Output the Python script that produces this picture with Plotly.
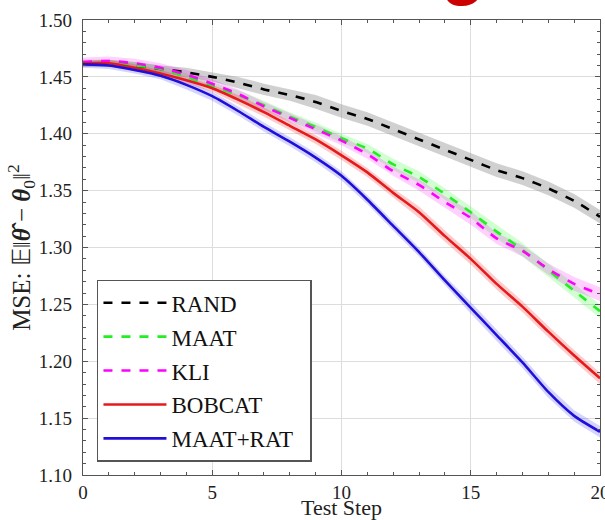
import plotly.graph_objects as go

steps = list(range(21))

rand = [1.462, 1.462, 1.460, 1.457, 1.454, 1.450, 1.445, 1.439, 1.434, 1.428, 1.420,
        1.413, 1.404, 1.395, 1.386, 1.377, 1.368, 1.361, 1.352, 1.341, 1.327]
maat = [1.462, 1.462, 1.460, 1.457, 1.450, 1.442, 1.434, 1.425, 1.415, 1.406, 1.396,
        1.387, 1.373, 1.362, 1.347, 1.331, 1.314, 1.298, 1.280, 1.262, 1.244]
kli = [1.463, 1.464, 1.462, 1.458, 1.452, 1.444, 1.435, 1.424, 1.414, 1.404, 1.394,
       1.382, 1.367, 1.355, 1.340, 1.326, 1.308, 1.297, 1.281, 1.268, 1.259]
bobcat = [1.462, 1.462, 1.458, 1.453, 1.447, 1.440, 1.430, 1.419, 1.407, 1.395, 1.381,
          1.366, 1.348, 1.331, 1.310, 1.290, 1.268, 1.248, 1.226, 1.205, 1.185]
maat_rat = [1.461, 1.460, 1.456, 1.451, 1.443, 1.433, 1.420, 1.406, 1.393, 1.379, 1.363,
            1.342, 1.319, 1.296, 1.271, 1.247, 1.223, 1.199, 1.173, 1.152, 1.138]

rand_err = [0.002, 0.003, 0.003, 0.003, 0.004, 0.004, 0.005, 0.005, 0.005, 0.006, 0.006,
            0.006, 0.006, 0.006, 0.006, 0.006, 0.006, 0.006, 0.006, 0.006, 0.006]
maat_err = [0.003, 0.003, 0.003, 0.003, 0.003, 0.003, 0.004, 0.004, 0.004, 0.004, 0.004,
            0.004, 0.005, 0.005, 0.005, 0.005, 0.006, 0.006, 0.006, 0.006, 0.006]
kli_err = [0.004, 0.004, 0.004, 0.004, 0.004, 0.004, 0.004, 0.004, 0.004, 0.004, 0.004,
           0.004, 0.004, 0.005, 0.005, 0.006, 0.005, 0.005, 0.005, 0.006, 0.006]
bobcat_err = [0.003, 0.003, 0.003, 0.003, 0.003, 0.003, 0.004, 0.004, 0.004, 0.004, 0.004,
              0.004, 0.004, 0.005, 0.005, 0.005, 0.005, 0.005, 0.005, 0.005, 0.005]
maat_rat_err = [0.003, 0.003, 0.003, 0.003, 0.004, 0.004, 0.004, 0.004, 0.004, 0.004, 0.004,
                0.004, 0.004, 0.004, 0.004, 0.005, 0.005, 0.005, 0.005, 0.005, 0.005]

series = [
    ("RAND", rand, rand_err, "black", "rgba(150,150,150,0.45)", "dash"),
    ("MAAT", maat, maat_err, "#22ee22", "rgba(0,255,0,0.18)", "dash"),
    ("KLI", kli, kli_err, "#ff00ff", "rgba(255,0,255,0.18)", "dash"),
    ("BOBCAT", bobcat, bobcat_err, "#e41a1c", "rgba(255,0,0,0.2)", "solid"),
    ("MAAT+RAT\u00a0\u00a0", maat_rat, maat_rat_err, "#1f0fd8", "rgba(60,60,255,0.22)", "solid"),
]

serif = "Liberation Serif"
fig = go.Figure()

for name, ys, err, lc, fc, dash in series:
    upper = [y + e for y, e in zip(ys, err)]
    lower = [y - e for y, e in zip(ys, err)]
    fig.add_trace(go.Scatter(
        x=steps + steps[::-1], y=upper + lower[::-1],
        fill="toself", fillcolor=fc, line=dict(width=0),
        mode="lines", showlegend=False, hoverinfo="skip",
    ))

for name, ys, err, lc, fc, dash in series:
    fig.add_trace(go.Scatter(
        x=steps, y=ys, mode="lines", name=name, legendgroup=name,
        line=dict(color=lc, width=2.6, dash=dash, shape="spline", smoothing=0.6),
    ))

axis_common = dict(
    showline=True, linecolor="#555", linewidth=1.2, mirror="allticks",
    ticks="inside", ticklen=5, tickcolor="#555",
    showgrid=True, gridcolor="#dddddd", gridwidth=1,
    zeroline=False, automargin=False, ticklabeloverflow="allow",
    tickfont=dict(family=serif, size=19, color="#222"),
)

fig.update_xaxes(
    range=[0, 20], tickvals=[0, 5, 10, 15, 20],
    minor=dict(dtick=1, ticks="inside", ticklen=3, tickcolor="#555", showgrid=False),
    title=dict(text="Test Step", font=dict(family=serif, size=22, color="#222"), standoff=0),
    **axis_common,
)
fig.update_yaxes(
    range=[1.10, 1.50], dtick=0.05, tickformat=".2f", ticklabelstandoff=6,
    minor=dict(dtick=0.01, ticks="inside", ticklen=3, tickcolor="#555", showgrid=False),
    title=dict(text="MSE: 𝔼‖<b><i>θ̂</i></b> − <b><i>θ</i></b><sub>0</sub>‖<sup>2</sup>",
               font=dict(family=serif, size=25, color="#222"), standoff=0),
    **axis_common,
)

fig.add_annotation(
    text="<b>g</b>", xref="paper", yref="paper", x=0.735, y=1.026,
    xanchor="center", yanchor="bottom", showarrow=False,
    font=dict(family="Liberation Sans", size=72, color="#cc0000"),
)

fig.update_layout(
    width=605, height=520,
    margin=dict(l=83, r=5, t=20, b=45),
    paper_bgcolor="white", plot_bgcolor="white",
    showlegend=True,
    legend=dict(
        x=0.027, y=0.029, xanchor="left", yanchor="bottom",
        bgcolor="white", bordercolor="#555", borderwidth=1.5,
        font=dict(family=serif, size=23, color="#111"),
        itemwidth=63, tracegroupgap=1,
    ),
)

fig.write_html("out.html", config={"displayModeBar": False},
               post_script="document.body.style.margin='0';")
